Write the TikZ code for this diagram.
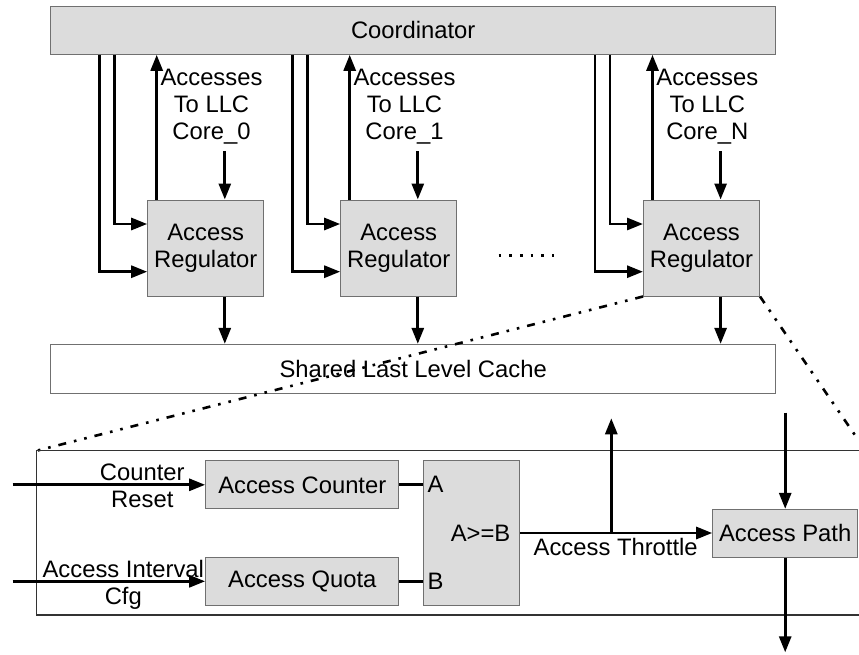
\documentclass[tikz,border=0pt]{standalone}
\usepackage{fontspec}
\setmainfont{Liberation Sans}
\usetikzlibrary{arrows.meta,calc}
\definecolor{boxfill}{HTML}{DCDCDC}
\definecolor{boxline}{HTML}{707070}
\begin{document}
\begin{tikzpicture}[x=1pt,y=-1pt,
  txt/.style={font=\fontsize{23.8}{27}\selectfont},
  blk/.style={draw=boxline, fill=boxfill, line width=1pt, inner sep=0pt, txt, align=center},
  wblk/.style={blk, fill=white},
  arr/.style={line width=2.8pt, -{Triangle[length=16pt,width=12pt]}},
  wire/.style={line width=2.8pt},
  zoomline/.style={line width=2.6pt, dash pattern=on 8pt off 8pt on 2.6pt off 8pt on 2.6pt off 8pt},
  lbl/.style={txt, align=center, inner sep=0pt}]
\useasboundingbox (0,0) rectangle (859,654);

% Coordinator and LLC
\node[blk, minimum width=725pt, minimum height=48pt] (coord) at (413.2,30.3) {Coordinator};
\node[wblk, minimum width=725pt, minimum height=48.7pt] (llc) at (413.2,368.7) {Shared Last Level Cache};

% Regulators
\foreach \n/\cx/\core in {r0/205.7/0, r1/398.7/1, rN/701.5/N}{
  \node[blk, minimum width=116pt, minimum height=96pt] (\n) at (\cx,248) {Access\\Regulator};
  \coordinate (\n a) at ($(\n.west)+(-48,0)$);
  \coordinate (\n b) at ($(\n.west)+(-33,0)$);
  \coordinate (\n u) at ($(\n.north west)+(9.5,0)$);
  \coordinate (\n d) at ($(\n.north west)+(77.6,0)$);
  \coordinate (\n ds) at ($(\n d)+(0,-48.3)$);
  \draw[arr] (coord.south -| \n a) |- ($(\n.west)+(0,23.7)$);
  \draw[arr] (coord.south -| \n b) |- ($(\n.west)+(0,-24)$);
  \draw[arr] (\n u) -- (\n u |- coord.south);
  \draw[arr] (\n ds) -- (\n d);
  \draw[arr] (\n.south -| \n d) -- (llc.north -| \n d);
  \node[lbl] (\n l) at ($(\n.north west)+(64.3,-93)$) {Accesses\\To LLC\\Core\_\core};
}

% dots between regulators
\coordinate (dotsA) at (498.5,255.7);
\coordinate (dotsB) at (554,255.7);
\draw[line width=2.8pt, dash pattern=on 2.8pt off 7.9pt] (dotsA) -- (dotsB);

% zoom lines
\coordinate (dtl) at (36.7,450.7);
\coordinate (dtr) at (859,441);
\draw[zoomline] (rN.south west) -- (dtl);
\draw[zoomline] (rN.south east) -- (dtr);

% detail frame
\draw[line width=1.1pt, draw=black!80] (859,450.7) -- (dtl) -- (36.7,615) -- (859,615);

% detail blocks
\node[blk, minimum width=193.3pt, minimum height=48.3pt] (cnt) at (302.3,484.8) {Access Counter};
\node[blk, minimum width=193.3pt, minimum height=48pt] (quo) at (302.3,581.3) {Access Quota};
\node[blk, minimum width=96.4pt, minimum height=144.6pt] (cmp) at (471.5,533) {};
\node[txt, anchor=east, inner sep=0pt] (cmpt) at ($(cmp.east)+(-9.7,0)$) {A>=B};
\coordinate (cA) at (cmp.west |- cnt);
\coordinate (cB) at (cmp.west |- quo);
\node[txt, anchor=west, inner sep=0pt] (la) at ($(cA)+(4.7,0)$) {A};
\node[txt, anchor=west, inner sep=0pt] (lb) at ($(cB)+(4.7,0)$) {B};
\draw[wire] (cnt.east) -- (cA);
\draw[wire] (quo.east) -- (cB);
\node[blk, minimum width=145pt, minimum height=47.7pt] (path) at (785.2,533.2) {Access Path};

% inputs
\coordinate (cin) at (12.7,484.8);
\coordinate (qin) at (12.7,581.3);
\draw[arr] (cin) -- (cnt.west);
\draw[arr] (qin) -- (quo.west);
\node[lbl] (cinl) at (142.3,485.5) {Counter\\Reset};
\node[lbl] (qinl) at (123.3,584.5) {Access Interval\\Cfg};

% throttle
\draw[arr] (cmp.east) -- (cmp.east -| path.west);
\coordinate (br) at (611.3,533);
\coordinate (brt) at (611.3,418.3);
\draw[arr] (br) -- (brt);
\node[txt, anchor=base, inner sep=0pt] (thl) at (615.7,555) {Access Throttle};

% access path in/out
\coordinate (pin) at (785.2,412.7);
\coordinate (pout) at (785.2,652.3);
\draw[arr] (pin) -- (path.north);
\draw[arr] (path.south) -- (pout);
\end{tikzpicture}
\end{document}
